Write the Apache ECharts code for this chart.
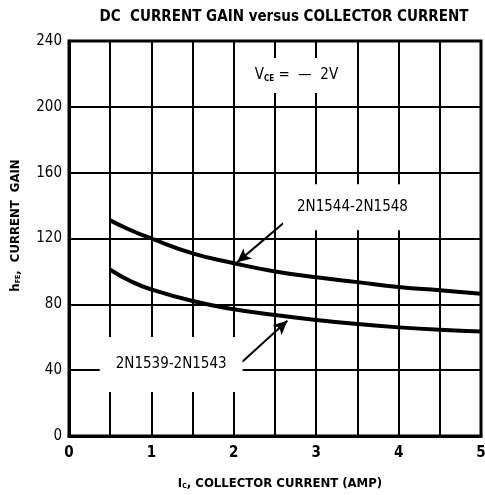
<!DOCTYPE html>
<html>
<head>
<meta charset="utf-8">
<script src="https://cdn.jsdelivr.net/npm/echarts@6/dist/echarts.min.js"></script>
<style>
  html, body { margin: 0; padding: 0; background: #fff; }
  #main { width: 485px; height: 495px; }
</style>
</head>
<body>
<div id="main"></div>
<script>
var myChart = echarts.init(document.getElementById("main"));

// collector current (A)
const current = [0.5, 0.75, 1, 1.5, 2, 2.5, 3, 3.5, 4, 4.5, 5];
// 2N1544-2N1548
const gainHigh = [131, 125, 120, 111, 105, 100, 96.5, 93.5, 90.5, 88.5, 86.5];
// 2N1539-2N1543
const gainLow = [101, 94, 89, 82, 77, 73.5, 70.5, 68, 66, 64.5, 63.5];

const yTicks = [0, 40, 80, 120, 160, 200, 240];
const xTicks = [0, 1, 2, 3, 4, 5];

const font = '"Liberation Sans Narrow", "DejaVu Sans Condensed", "Liberation Sans", sans-serif';

function pairs(xs, ys) {
  return xs.map(function (x, i) { return [x, ys[i]]; });
}

const boxLabel = {
  show: true,
  position: "inside",
  color: "#000",
  fontFamily: font,
  fontSize: 15,
  backgroundColor: "#fff",
};

const nameRich = {
  i: { fontFamily: font, fontWeight: "bold", fontSize: 13, color: "#000" },
  s: { fontFamily: font, fontWeight: "bold", fontSize: 7, color: "#000", verticalAlign: "bottom", padding: [6, 0, 0, 0] },
  t: { fontFamily: font, fontWeight: "bold", fontSize: 13, color: "#000" },
};

option = {
  backgroundColor: "#fff",
  animation: false,
  title: {
    text: "DC  CURRENT GAIN versus COLLECTOR CURRENT",
    left: 279,
    top: 5,
    textAlign: "center",
    textStyle: { fontFamily: font, fontWeight: "bold", fontSize: 15, color: "#000" },
  },
  grid: {
    left: 69, right: 4, top: 41, bottom: 59,
    outerBoundsMode: "none",
    show: true, borderColor: "#000", borderWidth: 3,
  },
  xAxis: {
    type: "value",
    min: xTicks[0], max: xTicks[xTicks.length - 1], interval: 0.5,
    axisLine: { show: true, lineStyle: { color: "#000", width: 3 } },
    axisTick: { show: false },
    splitLine: { show: true, lineStyle: { color: "#000", width: 2 } },
    axisLabel: {
      color: "#000", fontFamily: font, fontWeight: "bold", fontSize: 15, margin: 10,
      formatter: function (v) { return xTicks.indexOf(v) >= 0 ? String(v) : ""; },
    },
    name: "{i|I}{s|C}{t|, COLLECTOR CURRENT (AMP)}",
    nameLocation: "middle",
    nameGap: 41,
    nameTextStyle: { rich: nameRich, padding: [0, 0, 0, 10] },
  },
  yAxis: {
    type: "value",
    min: yTicks[0], max: yTicks[yTicks.length - 1], interval: 40,
    axisLine: { show: true, lineStyle: { color: "#000", width: 3 } },
    axisTick: { show: false },
    splitLine: { show: true, lineStyle: { color: "#000", width: 2 } },
    axisLabel: { color: "#000", fontFamily: font, fontSize: 15, margin: 7 },
    name: "{i|h}{s|FE}{t|,  CURRENT  GAIN}",
    nameLocation: "middle",
    nameGap: 47,
    nameRotate: 90,
    nameTextStyle: { rich: nameRich, padding: [0, 0, 0, 26] },
  },
  series: [
    {
      type: "line",
      name: "2N1544-2N1548",
      data: pairs(current, gainHigh),
      smooth: true,
      showSymbol: false,
      lineStyle: { color: "#000", width: 4 },
      markLine: {
        silent: true,
        symbol: ["none", "arrow"],
        symbolSize: [10, 14],
        label: { show: false },
        lineStyle: { color: "#000", width: 2, type: "solid" },
        data: [[{ coord: [2.69, 133] }, { coord: [2.04, 105.5] }]],
      },
      markPoint: {
        symbolSize: 0,
        silent: true,
        data: [
          {
            coord: [3.44, 139],
            label: Object.assign({}, boxLabel, {
              formatter: "2N1544-2N1548",
              padding: [9, 14, 22, 14],
            }),
          },
          {
            coord: [2.76, 219],
            label: Object.assign({}, boxLabel, {
              formatter: "{v|V}{s|CE}{t| =  —  2V}",
              padding: [10, 8, 10, 8],
              rich: {
                v: { fontFamily: font, fontSize: 15, color: "#000" },
                s: { fontFamily: font, fontWeight: "bold", fontSize: 8, color: "#000", verticalAlign: "bottom", padding: [6, 0, 0, 0] },
                t: { fontFamily: font, fontSize: 15, color: "#000" },
              },
            }),
          },
        ],
      },
    },
    {
      type: "line",
      name: "2N1539-2N1543",
      data: pairs(current, gainLow),
      smooth: true,
      showSymbol: false,
      lineStyle: { color: "#000", width: 4 },
      markLine: {
        silent: true,
        symbol: ["none", "arrow"],
        symbolSize: [10, 14],
        label: { show: false },
        lineStyle: { color: "#000", width: 2, type: "solid" },
        data: [[{ coord: [2.09, 44.5] }, { coord: [2.65, 70] }]],
      },
      markPoint: {
        symbolSize: 0,
        silent: true,
        data: [
          {
            coord: [1.24, 43.5],
            label: Object.assign({}, boxLabel, {
              formatter: "2N1539-2N1543",
              padding: [14, 16, 26, 16],
            }),
          },
        ],
      },
    },
  ],
};

myChart.setOption(option);
</script>
</body>
</html>
